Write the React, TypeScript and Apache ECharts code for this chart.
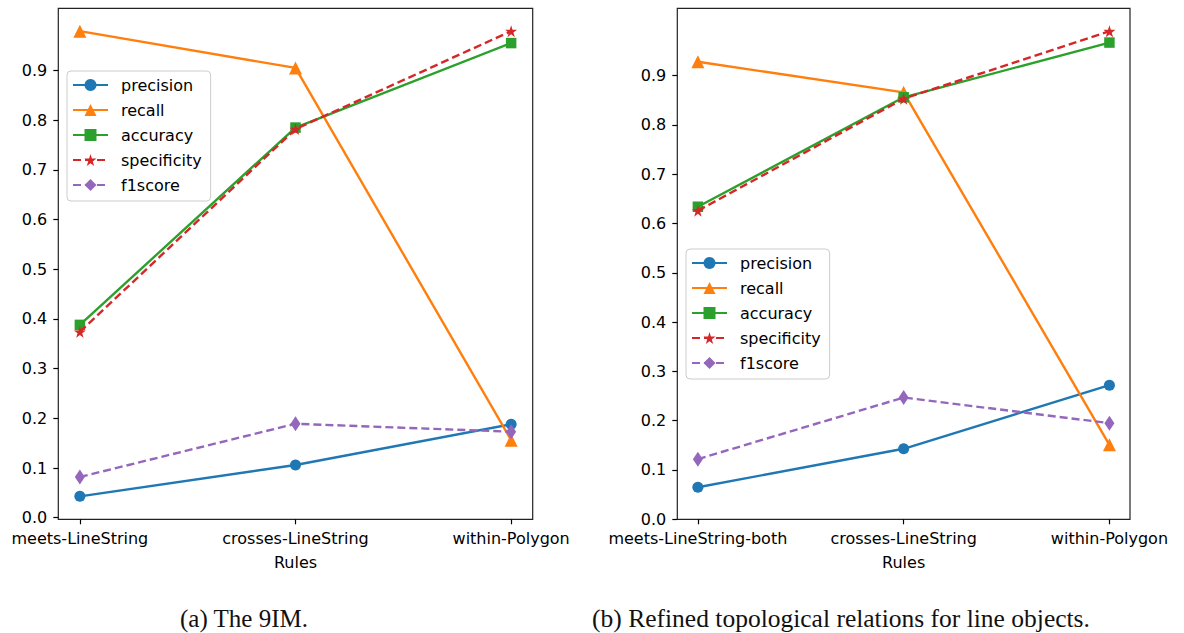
import React, { useEffect, useRef } from "react";
import * as echarts from "echarts";

const seriesNames = ["precision", "recall", "accuracy", "specificity", "f1score"];
const leftCategories = ["meets-LineString", "crosses-LineString", "within-Polygon"];
const rightCategories = ["meets-LineString-both", "crosses-LineString", "within-Polygon"];

const leftPrecision = [0.043, 0.106, 0.188];
const leftRecall = [0.979, 0.905, 0.156];
const leftAccuracy = [0.388, 0.785, 0.955];
const leftSpecificity = [0.374, 0.782, 0.979];
const leftF1score = [0.082, 0.189, 0.173];

const rightPrecision = [0.065, 0.143, 0.272];
const rightRecall = [0.928, 0.866, 0.151];
const rightAccuracy = [0.634, 0.856, 0.967];
const rightSpecificity = [0.626, 0.853, 0.99];
const rightF1score = [0.122, 0.247, 0.195];

const yTicks = [0, 0.1, 0.2, 0.3, 0.4, 0.5, 0.6, 0.7, 0.8, 0.9];
const xTicks = [0, 1, 2];

const captionA = "(a) The 9IM.";
const captionB = "(b) Refined topological relations for line objects.";

const COLORS = ["#1f77b4", "#ff7f0e", "#2ca02c", "#d62728", "#9467bd"];
const STAR =
  "path://M0,-100L22.45,-30.9L95.11,-30.9L36.33,11.8L58.78,80.9L0,38.2L-58.78,80.9L-36.33,11.8L-95.11,-30.9L-22.45,-30.9Z";
const SYMBOLS: any[] = ["circle", "triangle", "rect", STAR, "diamond"];
const SIZES: any[] = [11, 13, 10.5, 12, [10, 15]];
const DASHED = [false, false, false, true, true];

const FONT = "DejaVu Sans";

function makeSeries(values: number[][], gridIdx: number) {
  return values.map((vals, i) => ({
    name: seriesNames[i],
    type: "line",
    xAxisIndex: gridIdx,
    yAxisIndex: gridIdx,
    data: vals.map((v, k) => [xTicks[k], v]),
    symbol: SYMBOLS[i],
    symbolSize: SIZES[i],
    showSymbol: true,
    color: COLORS[i],
    lineStyle: { color: COLORS[i], width: 2.4, type: DASHED[i] ? [8, 4] : "solid" },
    itemStyle: { color: COLORS[i], borderWidth: 0 },
    emphasis: { disabled: true },
    z: 2 + i,
  }));
}

function makeXAxis(gridIndex: number, cats: string[]) {
  return {
    type: "value",
    gridIndex,
    min: -0.1,
    max: 2.1,
    name: "Rules",
    nameLocation: "middle",
    nameGap: 35,
    nameTextStyle: { fontFamily: FONT, fontSize: 16, color: "#000" },
    axisLine: { show: false, onZero: false },
    splitLine: { show: false },
    axisTick: { show: true, customValues: xTicks, length: 5, lineStyle: { color: "#000", width: 1.2 } },
    axisLabel: {
      show: true,
      customValues: xTicks,
      margin: 11,
      fontFamily: FONT,
      fontSize: 16,
      color: "#000",
      formatter: (v: number) => cats[Math.round(v)],
    },
  };
}

function makeYAxis(gridIndex: number, min: number, max: number) {
  return {
    type: "value",
    gridIndex,
    min,
    max,
    axisLine: { show: false, onZero: false },
    splitLine: { show: false },
    axisTick: { show: true, customValues: yTicks, length: 5, lineStyle: { color: "#000", width: 1.2 } },
    axisLabel: {
      show: true,
      customValues: yTicks,
      margin: 11,
      fontFamily: FONT,
      fontSize: 16,
      color: "#000",
      formatter: (v: number) => v.toFixed(1),
    },
  };
}

function makeLegend(left: number, top: number) {
  return {
    show: true,
    orient: "vertical",
    left,
    top,
    data: seriesNames,
    selectedMode: false,
    itemWidth: 35,
    itemHeight: 15,
    itemGap: 9,
    padding: [6, 9, 8, 5],
    backgroundColor: "rgba(255,255,255,0.8)",
    borderColor: "#cccccc",
    borderWidth: 1,
    borderRadius: 4,
    textStyle: {
      fontFamily: FONT,
      fontSize: 16,
      lineHeight: 16,
      color: "#000",
      padding: [0, 0, 0, 8],
    },
  };
}

export default function App() {
  const ref = useRef<HTMLDivElement>(null);
  useEffect(() => {
    if (!ref.current) return;
    const chart = echarts.init(ref.current, null, { renderer: "svg" });
    const option: any = {
      animation: false,
      backgroundColor: "#fff",
      grid: [
        { left: 58.3, top: 8.3, width: 474.4, height: 511, show: true, borderColor: "#222", borderWidth: 1.2, backgroundColor: "transparent" },
        { left: 677.3, top: 8.3, width: 452.7, height: 511, show: true, borderColor: "#222", borderWidth: 1.2, backgroundColor: "transparent" },
      ],
      xAxis: [makeXAxis(0, leftCategories), makeXAxis(1, rightCategories)],
      yAxis: [makeYAxis(0, -0.0032, 1.025), makeYAxis(1, 0, 1.0365)],
      legend: [makeLegend(67, 71), makeLegend(686, 249)],
      series: [
        ...makeSeries([leftPrecision, leftRecall, leftAccuracy, leftSpecificity, leftF1score], 0),
        ...makeSeries([rightPrecision, rightRecall, rightAccuracy, rightSpecificity, rightF1score], 1),
      ],
      graphic: [
        {
          type: "text",
          x: 244,
          y: 618,
          style: {
            text: captionA,
            fontFamily: "Liberation Serif",
            fontSize: 25,
            fill: "#111",
            align: "center",
            verticalAlign: "middle",
          },
        },
        {
          type: "text",
          x: 841,
          y: 618,
          style: {
            text: captionB,
            fontFamily: "Liberation Serif",
            fontSize: 25.5,
            fill: "#111",
            align: "center",
            verticalAlign: "middle",
          },
        },
      ],
    };
    chart.setOption(option);
    return () => chart.dispose();
  }, []);
  return (
    <div
      ref={ref}
      style={{ position: "fixed", left: 0, top: 0, width: 1184, height: 633, background: "#fff" }}
    />
  );
}
